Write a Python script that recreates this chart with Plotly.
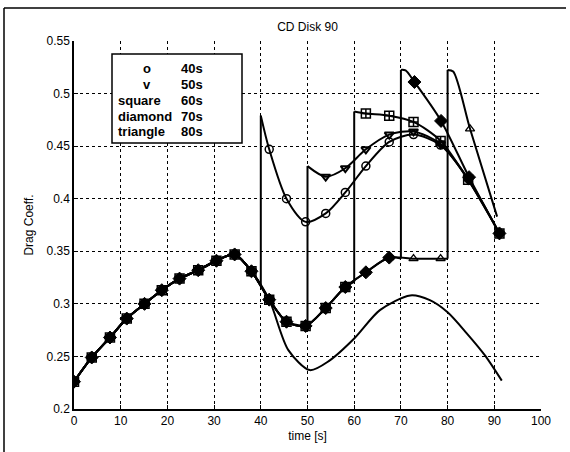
import plotly.graph_objects as go

# ---- data -------------------------------------------------------------
# common history (all runs identical until their stop time)
t_base = [0, 3.8, 7.7, 11.3, 15.1, 18.8, 22.6, 26.6, 30.5, 34.4, 38.0, 41.8,
          45.5, 49.6, 53.9, 58.1, 62.5, 67.5]
cd_base = [0.226, 0.249, 0.268, 0.286, 0.300, 0.313, 0.324, 0.332, 0.341, 0.347,
           0.331, 0.304, 0.283, 0.279, 0.296, 0.316, 0.330, 0.344]

# uninterrupted run (plain line, no markers) after it leaves the common history
t_free = [45.9, 50.5, 54.7, 60.0, 65.5, 72.0, 76.2, 80.0, 84.1, 88.0, 91.6]
cd_free = [0.256, 0.237, 0.246, 0.267, 0.294, 0.308, 0.3035, 0.292, 0.272, 0.251, 0.227]

# stop times and the drag coefficient just before / after the step
stop_t = [40, 50, 60, 70, 80]
stop_cd_low = [0.318, 0.279, 0.321, 0.343, 0.343]
stop_cd_high = [0.479, 0.431, 0.483, 0.5225, 0.5225]

# held value of the 80 s run between 70 s and 80 s
t_hold80 = [72.7, 78.5]
cd_hold80 = [0.343, 0.343]

# shoulder right after the step (70 s and 80 s runs)
t_shoulder = {70: 71.0, 80: 81.2}
cd_shoulder = {70: 0.522, 80: 0.521}

# values after the step
t_40 = [41.8, 45.5, 49.6, 53.9, 58.1, 62.5, 67.5, 72.7, 78.5, 84.4, 91.1]
cd_40 = [0.447, 0.400, 0.378, 0.386, 0.406, 0.431, 0.454, 0.461, 0.451, 0.419, 0.367]
t_50 = [53.9, 58.1, 62.5, 67.5, 72.7, 78.5, 84.4, 91.1]
cd_50 = [0.421, 0.429, 0.447, 0.461, 0.464, 0.452, 0.418, 0.367]
t_60 = [62.5, 67.5, 72.7, 78.5, 84.4, 91.1]
cd_60 = [0.481, 0.479, 0.473, 0.455, 0.418, 0.367]
t_70 = [72.9, 78.6, 84.6, 91.1]
cd_70 = [0.511, 0.474, 0.4205, 0.367]
t_80 = [84.8, 90.6]
cd_80 = [0.4665, 0.383]

x_ticks = [0, 10, 20, 30, 40, 50, 60, 70, 80, 90, 100]
y_ticks = [0.2, 0.25, 0.3, 0.35, 0.4, 0.45, 0.5, 0.55]
y_ticktext = ["0.2", "0.25", "0.3", "0.35", "0.4", "0.45", "0.5", "0.55"]

legend_rows = [("o", "40s"), ("v", "50s"), ("square", "60s"),
               ("diamond", "70s"), ("triangle", "80s")]

# ---- styling ----------------------------------------------------------
W, H = 570, 452
ML, MR, MT, MB = 74, 29, 41, 43
FONT = "Liberation Sans, Arial, sans-serif"
LINE = dict(color="black", width=2)

post = {40: (t_40, cd_40), 50: (t_50, cd_50), 60: (t_60, cd_60),
        70: (t_70, cd_70), 80: (t_80, cd_80)}
unmarked_tail = {40: 0, 50: 0, 60: 0, 70: 0, 80: 1}
symbols = {
    40: dict(symbol="circle-open", size=8, color="black", line=dict(width=1.5, color="black")),
    50: dict(symbol="triangle-down-open", size=8, color="black", line=dict(width=2, color="black")),
    60: dict(symbol="square-cross-open", size=9, color="black", line=dict(width=1.5, color="black")),
    70: dict(symbol="diamond", size=10, color="black", line=dict(width=1, color="black")),
    80: dict(symbol="triangle-up-open", size=8, color="black", line=dict(width=1.3, color="black")),
}

fig = go.Figure()


def add_line(x, y, shape="spline"):
    fig.add_trace(go.Scatter(x=x, y=y, mode="lines", hoverinfo="skip",
                             line=dict(LINE, shape=shape, smoothing=0.8),
                             showlegend=False))


# uninterrupted run
n_common = 12
add_line(t_base[:n_common] + t_free, cd_base[:n_common] + cd_free)

for ts, lo, hi in zip(stop_t, stop_cd_low, stop_cd_high):
    # history up to the stop
    hx = [t for t in t_base if t < ts]
    hy = cd_base[:len(hx)]
    if ts == 80:
        hx = hx + t_hold80
        hy = hy + cd_hold80
    add_line(hx + [ts], hy + [lo])
    # step
    add_line([ts, ts], [lo, hi], shape="linear")
    # after the step
    px, py = post[ts]
    ax = [ts]
    ay = [hi]
    if ts in t_shoulder:
        ax.append(t_shoulder[ts])
        ay.append(cd_shoulder[ts])
    add_line(ax + px, ay + py)

# markers on top
for ts in stop_t:
    hx = [t for t in t_base if t < ts]
    hy = cd_base[:len(hx)]
    if ts == 80:
        hx = hx + t_hold80
        hy = hy + cd_hold80
    px, py = post[ts]
    n = len(px) - unmarked_tail[ts]
    fig.add_trace(go.Scatter(x=hx + px[:n], y=hy + py[:n], mode="markers",
                             marker=symbols[ts], hoverinfo="skip",
                             showlegend=False))

# ---- legend box -------------------------------------------------------
def xd(px):
    return (px - ML) / (W - ML - MR) * 100


def yd(py):
    return 0.2 + (H - MB - py) / (H - MT - MB) * 0.35


fig.add_shape(type="rect", xref="x", yref="y", x0=xd(112), x1=xd(242),
              y0=yd(143), y1=yd(54), line=dict(color="black", width=1.5),
              fillcolor="white", layer="above")
row_y = [68.5, 84, 100.5, 116, 131]
for (name, label), ry in zip(legend_rows, row_y):
    if len(name) == 1:
        fig.add_annotation(x=xd(147), y=yd(ry), text=f"<b>{name}</b>",
                           showarrow=False, xanchor="center", yanchor="middle",
                           font=dict(family=FONT, size=13, color="black"))
    else:
        fig.add_annotation(x=xd(116), y=yd(ry), text=f"<b>{name}</b>",
                           showarrow=False, xanchor="left", yanchor="middle",
                           font=dict(family=FONT, size=13, color="black"))
    fig.add_annotation(x=xd(205), y=yd(ry), text=f"<b>{label}</b>",
                       showarrow=False, xanchor="right", yanchor="middle",
                       font=dict(family=FONT, size=13, color="black"))

# page frame
fig.add_shape(type="line", xref="paper", yref="paper",
              x0=(4 - ML) / (W - ML - MR), x1=(4 - ML) / (W - ML - MR),
              y0=(H - MB - 8) / (H - MT - MB), y1=-MB / (H - MT - MB),
              line=dict(color="black", width=1.5))
fig.add_shape(type="line", xref="paper", yref="paper",
              x0=(4 - ML) / (W - ML - MR), x1=(566 - ML) / (W - ML - MR),
              y0=(H - MB - 8) / (H - MT - MB), y1=(H - MB - 8) / (H - MT - MB),
              line=dict(color="black", width=1.5))

axis_common = dict(showgrid=True, gridcolor="black", gridwidth=1, griddash="3px,3px",
                   showline=True, linecolor="black", linewidth=1.5, zeroline=False,
                   ticks="inside", ticklen=4, tickcolor="black",
                   tickfont=dict(family=FONT, size=12, color="black"))

fig.update_layout(
    width=W, height=H,
    margin=dict(l=ML, r=MR, t=MT, b=MB, pad=0),
    paper_bgcolor="white", plot_bgcolor="white",
    title=dict(text="CD Disk 90", x=(ML + (W - ML - MR) / 2) / W, xanchor="center",
               y=1 - 27 / H, yanchor="middle",
               font=dict(family=FONT, size=12, color="black")),
    xaxis=dict(axis_common, range=[0, 100], tickvals=x_ticks,
               title=dict(text="time [s]", standoff=4,
                          font=dict(family=FONT, size=12, color="black"))),
    yaxis=dict(axis_common, range=[0.2, 0.55], tickvals=y_ticks, ticktext=y_ticktext,
               title=dict(text="Drag Coeff.", standoff=10,
                          font=dict(family=FONT, size=12, color="black"))),
)

fig.write_html("out.html")
